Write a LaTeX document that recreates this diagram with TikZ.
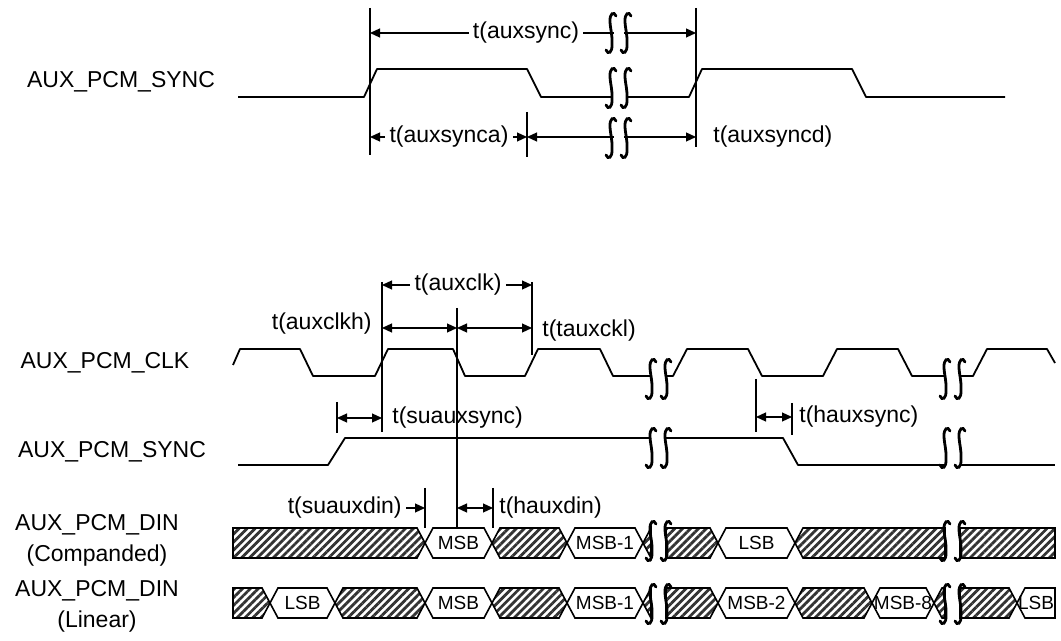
\documentclass[tikz,border=0pt]{standalone}
\usepackage{fontspec}
\setmainfont{Liberation Sans}
\usetikzlibrary{arrows.meta,patterns.meta}

\newcommand{\sqgl}[2]{%
  \fill[white] (#1-5,#2-9) rectangle (#1+5,#2+9);
  \foreach \dx in {-7.5,7.5}
    \draw[line width=1.4pt, line cap=round, shift={(#1+\dx,#2)}] (5,-17) .. controls (3,-22) and (-1.5,-20) .. (-1,-11)
      .. controls (-0.5,-3) and (1.5,2) .. (1,11) .. controls (1.5,20) and (-3,22) .. (-5,17);}
\newcommand{\hseg}[4]{%
  \path[hatch] (#1,\rowy) -- (#1+#3,\rowy-15) -- (#2-#4,\rowy-15) -- (#2,\rowy)
    -- (#2-#4,\rowy+15) -- (#1+#3,\rowy+15) -- cycle;}
\newcommand{\bseg}[6]{%
  \path[wbox] (#2,\rowy) -- (#2+#4,\rowy-15) -- (#3-#5,\rowy-15) -- (#3,\rowy)
    -- (#3-#5,\rowy+15) -- (#2+#4,\rowy+15) -- cycle;
  \node[bit] (#1) at ({(#2+#3)/2},\rowy) {#6};}

\begin{document}
\begin{tikzpicture}[x=0.5pt, y=-0.5pt, >={Triangle[length=5pt,width=4.5pt]},
    sig/.style={line width=0.9pt, line join=round},
    vl/.style={line width=0.6pt},
    dim/.style={line width=0.6pt},
    lbl/.style={font=\fontsize{11.5}{13}\selectfont, inner sep=2pt},
    signame/.style={font=\fontsize{11.5}{15.5}\selectfont, align=center, inner sep=0pt},
    hatch/.style={draw, line width=0.8pt, pattern={Lines[angle=45,distance=2.8pt,line width=1.4pt]}, pattern color=black!80},
    wbox/.style={draw, line width=0.8pt, fill=white},
    bit/.style={font=\fontsize{9.5}{10}\selectfont, inner sep=0pt}]
    \useasboundingbox (0,0) rectangle (1061,641);

    \node[signame] (ssync) at (121,82) {AUX\_PCM\_SYNC};
    \node[signame] (clk) at (105,363) {AUX\_PCM\_CLK};
    \node[signame] (bsync) at (112,452) {AUX\_PCM\_SYNC};
    \node[signame] (dinc) at (97,540) {AUX\_PCM\_DIN\\(Companded)};
    \node[signame] (dinl) at (97,606) {AUX\_PCM\_DIN\\(Linear)};

    % frame sync
    \draw[vl] (370,8) -- (370,155);
    \draw[vl] (696,8) -- (696,147);
    \draw[vl] (527,112) -- (527,157);
    \coordinate (aL) at (370,33);
    \coordinate (aR) at (696,33);
    \node[lbl] (tsync) at (526,33) {t(auxsync)};
    \draw[dim,->] (tsync) -- (aL);
    \draw[dim,->] (tsync) -- (aR);
    \sqgl{618.5}{33}
    \draw[sig] (238,97) -- (364,97) -- (377,69) -- (527,69) -- (541,97) -- (611,97);
    \draw[sig] (626,97) -- (689,97) -- (702,69) -- (852,69) -- (866,97) -- (1005,97);
    \sqgl{618.5}{88}
    \coordinate (bL) at (370,137);
    \coordinate (bM) at (527,137);
    \coordinate (bR) at (696,137);
    \node[lbl] (tsynca) at (449,137) {t(auxsynca)};
    \draw[dim,->] (tsynca) -- (bL);
    \draw[dim,->] (tsynca) -- (bM);
    \draw[dim,<->] (bM) -- (bR);
    \sqgl{618.5}{138}
    \node[lbl,anchor=west] (tsyncd) at (709,137) {t(auxsyncd)};

    % clock and sync
    \draw[vl] (382,282) -- (382,432);
    \draw[vl] (457,308) -- (457,527);
    \draw[vl] (532,282) -- (532,355);
    \coordinate (c1) at (382,285);
    \coordinate (c2) at (532,285);
    \node[lbl] (tclk) at (458,285) {t(auxclk)};
    \draw[dim,->] (tclk) -- (c1);
    \draw[dim,->] (tclk) -- (c2);
    \coordinate (h1) at (382,328);
    \coordinate (h2) at (457,328);
    \coordinate (h3) at (532,328);
    \draw[dim,<->] (h1) -- (h2);
    \draw[dim,<->] (h2) -- (h3);
    \node[lbl,anchor=east] (tclkh) at (376,324) {t(auxclkh)};
    \node[lbl,anchor=west] (tclkl) at (538,331) {t(tauxckl)};

    \draw[sig] (233,365) -- (240,349) -- (300,349) -- (313,376) -- (375,376) -- (388,349) -- (453,349)
      -- (465,376) -- (525,376) -- (538,349) -- (600,349) -- (613,376) -- (651,376);
    \draw[sig] (666,376) -- (673,376) -- (687,349) -- (748,349) -- (762,376) -- (823,376) -- (837,349)
      -- (898,349) -- (912,376) -- (945,376);
    \draw[sig] (960,376) -- (973,376) -- (987,349) -- (1047,349) -- (1055,363);
    \sqgl{658.5}{379}
    \sqgl{952.5}{379}

    \draw[vl] (337,402) -- (337,433);
    \coordinate (s1) at (337,418);
    \coordinate (s2) at (382,418);
    \draw[dim,<->] (s1) -- (s2);
    \node[lbl,anchor=west] (tsusync) at (388,418) {t(suauxsync)};
    \draw[vl] (756,379) -- (756,432);
    \draw[vl] (792,403) -- (792,435);
    \coordinate (k1) at (756,417);
    \coordinate (k2) at (792,417);
    \draw[dim,<->] (k1) -- (k2);
    \node[lbl,anchor=west] (thsync) at (795,417) {t(hauxsync)};

    \draw[sig] (238,465) -- (328,465) -- (345,438) -- (651,438);
    \draw[sig] (666,438) -- (783,438) -- (798,465) -- (945,465);
    \draw[sig] (960,465) -- (1055,465);
    \sqgl{658.5}{448}
    \sqgl{952.5}{448}

    % data in
    \draw[vl] (425,488) -- (425,528);
    \draw[vl] (493,488) -- (493,528);
    \coordinate (d1) at (425,508);
    \coordinate (d2) at (457,508);
    \coordinate (d3) at (493,508);
    \node[lbl,anchor=east] (tsudin) at (406,508) {t(suauxdin)};
    \draw[dim,->] (tsudin) -- (d1);
    \draw[dim,<->] (d2) -- (d3);
    \node[lbl,anchor=west] (thdin) at (495,508) {t(hauxdin)};

    \def\rowy{543}
    \hseg{233}{425}{0}{8}
    \bseg{cmsb}{425}{492}{8}{8}{MSB}
    \hseg{492}{567}{8}{8}
    \bseg{cmsbi}{567}{643}{8}{8}{MSB-1}
    \hseg{643}{651}{8}{0}
    \hseg{666}{718}{0}{8}
    \bseg{clsb}{718}{795}{8}{8}{LSB}
    \hseg{795}{945}{8}{0}
    \hseg{960}{1055}{0}{0}
    \sqgl{658.5}{541}
    \sqgl{952.5}{541}

    \def\rowy{603}
    \hseg{233}{270}{0}{8}
    \bseg{llsb}{270}{335}{8}{8}{LSB}
    \hseg{335}{425}{8}{8}
    \bseg{lmsb}{425}{492}{8}{8}{MSB}
    \hseg{492}{567}{8}{8}
    \bseg{lmsbi}{567}{643}{8}{8}{MSB-1}
    \hseg{643}{651}{8}{0}
    \hseg{666}{718}{0}{8}
    \bseg{lmsbii}{718}{795}{8}{8}{MSB-2}
    \hseg{795}{872}{8}{8}
    \bseg{lmsbviii}{872}{934}{8}{8}{MSB-8}
    \hseg{934}{945}{8}{0}
    \hseg{960}{1017}{0}{8}
    \bseg{llsbe}{1017}{1055}{8}{0}{LSB}
    \sqgl{658.5}{604}
    \sqgl{952.5}{604}
\end{tikzpicture}
\end{document}
